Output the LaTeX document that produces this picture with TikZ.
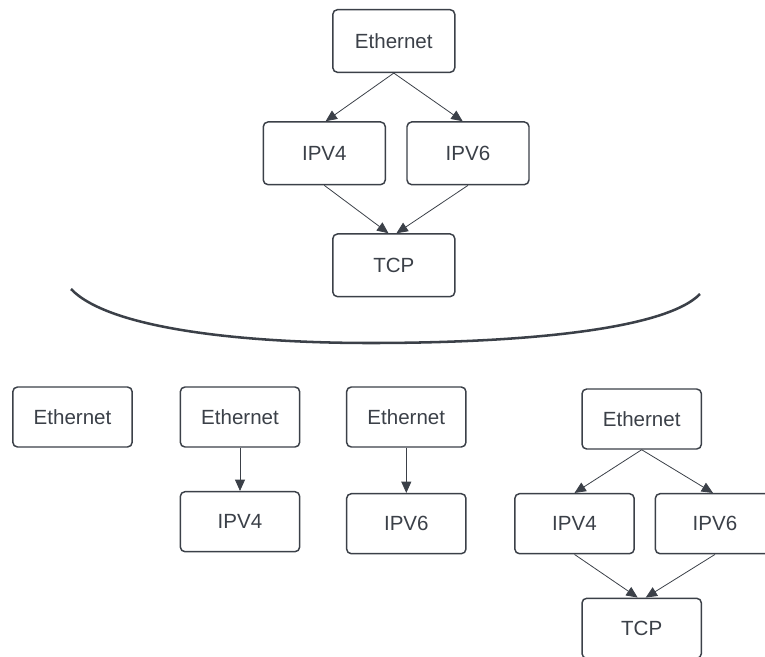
\documentclass[tikz,border=0pt]{standalone}
\usepackage{fontspec}
\setmainfont{Liberation Sans}
\usetikzlibrary{arrows.meta,calc}
\definecolor{ink}{HTML}{3B4048}
\begin{document}
\begin{tikzpicture}[x=0.75pt,y=-0.75pt,
  box/.style={draw=ink,line width=1.1pt,rounded corners=3.5pt,fill=white,
    inner sep=0pt,text=ink,font=\fontsize{15.4}{18}\selectfont},
  bigbox/.style={box,minimum width=91.5pt,minimum height=47pt},
  smallbox/.style={box,minimum width=89.5pt,minimum height=45pt},
  conn/.style={draw=ink,line width=0.6pt,-{Triangle[length=8.5pt,width=7.5pt]}}]
\useasboundingbox (0,0) rectangle (765,657);
\clip (0,0) rectangle (765,657);
% top group
\node[bigbox] (eth) at (393.8,41) {Ethernet};
\node[bigbox] (v4) at (324.3,153.3) {IPV4};
\node[bigbox] (v6) at (468,153.3) {IPV6};
\node[bigbox] (tcp) at (393.8,265.3) {TCP};
\draw[conn] (eth.south) -- ([xshift=1pt]v4.north);
\draw[conn] (eth.south) -- ([xshift=-4pt]v6.north);
\draw[conn] (v4.south) -- ([xshift=-4pt]tcp.north);
\draw[conn] (v6.south) -- ([xshift=2pt]tcp.north);
% curve
\draw[ink,line width=1.9pt] (71,289) .. controls (110,330) and (250,343) .. (370,343)
  .. controls (520,343) and (665,330) .. (700,294);
% bottom groups
\node[smallbox] (ea) at (72.5,417) {Ethernet};
\node[smallbox] (eb) at (240,417) {Ethernet};
\node[smallbox] (b4) at (240,521.7) {IPV4};
\node[smallbox] (ec) at (406.3,417) {Ethernet};
\node[smallbox] (c6) at (406.3,523.7) {IPV6};
\draw[conn] (eb.south) -- (b4.north);
\draw[conn] (ec.south) -- (c6.north);
\node[smallbox] (ed) at (641.7,419) {Ethernet};
\node[smallbox] (d4) at (574.5,523.7) {IPV4};
\node[smallbox] (d6) at (715,523.7) {IPV6};
\node[smallbox] (dt) at (641.7,628.3) {TCP};
\draw[conn] (ed.south) -- (d4.north);
\draw[conn] (ed.south) -- ([xshift=-1.5pt]d6.north);
\draw[conn] (d4.south) -- ([xshift=-3pt]dt.north);
\draw[conn] (d6.south) -- ([xshift=3pt]dt.north);
\end{tikzpicture}
\end{document}
